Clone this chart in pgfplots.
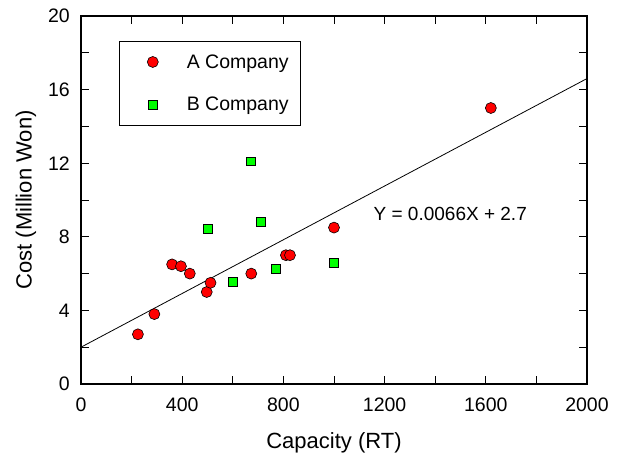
\documentclass[border=0pt]{standalone}
\usepackage{fontspec}
\setmainfont{Liberation Sans}
\usepackage{pgfplots}
\pgfplotsset{compat=1.18}

\definecolor{ptred}{RGB}{255,0,0}
\definecolor{ptgreen}{RGB}{0,255,0}

\begin{document}
\begin{tikzpicture}
\useasboundingbox (-81bp,-73bp) rectangle (543bp,384bp);
\begin{axis}[
    scale only axis,
    width=506bp, height=368bp,
    xmin=0, xmax=2000, ymin=0, ymax=20,
    xtick={0,400,...,2000}, ytick={0,4,...,20},
    minor x tick num=1, minor y tick num=1,
    xtick pos=both, ytick pos=both, ticklabel pos=left,
    tick align=inside,
    major tick length=8.3bp, minor tick length=8.3bp,
    every tick/.style={black, line width=0.8bp},
    axis line style={line width=1.2bp},
    /pgf/number format/assume math mode=true,
    /pgf/number format/1000 sep={},
    ticklabel style={font=\fontsize{19.5bp}{22bp}\selectfont, inner sep=0pt},
    xticklabel style={yshift=-14bp},
    yticklabel style={xshift=-11bp},
    xlabel={Capacity (RT)},
    ylabel={Cost (Million Won)},
    label style={font=\fontsize{22bp}{26bp}\selectfont},
    xlabel style={at={(axis description cs:0.5,-0.1766)}, anchor=base, inner sep=0pt},
    ylabel style={at={(axis description cs:-0.1087,0.5)}, anchor=center, inner sep=0pt},
    legend style={
        at={(axis description cs:0.0751,0.932)}, anchor=north west,
        draw=black, line width=0.8bp,
        inner xsep=12bp, inner ysep=13bp,
        row sep=27.5bp, column sep=28.5bp,
        font=\fontsize{19.5bp}{22bp}\selectfont,
        nodes={inner sep=0pt},
    },
    legend cell align=left,
    legend image code/.code={%
        \path (-21bp,0) (0,0);
        \draw[#1] plot coordinates {(0,0)};},
]
\addplot[only marks, mark=*, mark size=5.5bp,
    mark options={fill=ptred, draw=black, line width=0.6bp}]
    coordinates {
    (225,2.7) (290,3.8) (360,6.5) (395,6.4) (430,6.0) (497,5.0)
    (512,5.5) (673,6.0) (810,7.0) (826,7.0) (1000,8.5) (1620,15.0)
    };
\addlegendentry{A Company}
\addplot[only marks, mark=square*, mark size=4.3bp,
    mark options={fill=ptgreen, draw=black, line width=0.6bp}]
    coordinates {
    (500,8.45) (600,5.55) (670,12.1) (710,8.8) (770,6.25) (1000,6.6)
    };
\addlegendentry{B Company}
\addplot[black, line width=0.8bp, no marks, forget plot]
    coordinates {(0,2.0) (2000,16.6)};
\node[anchor=west, inner sep=0pt, font=\fontsize{19bp}{22bp}\selectfont]
    at (axis cs:1156,9.25) {Y = 0.0066X + 2.7};
\end{axis}
\end{tikzpicture}
\end{document}
